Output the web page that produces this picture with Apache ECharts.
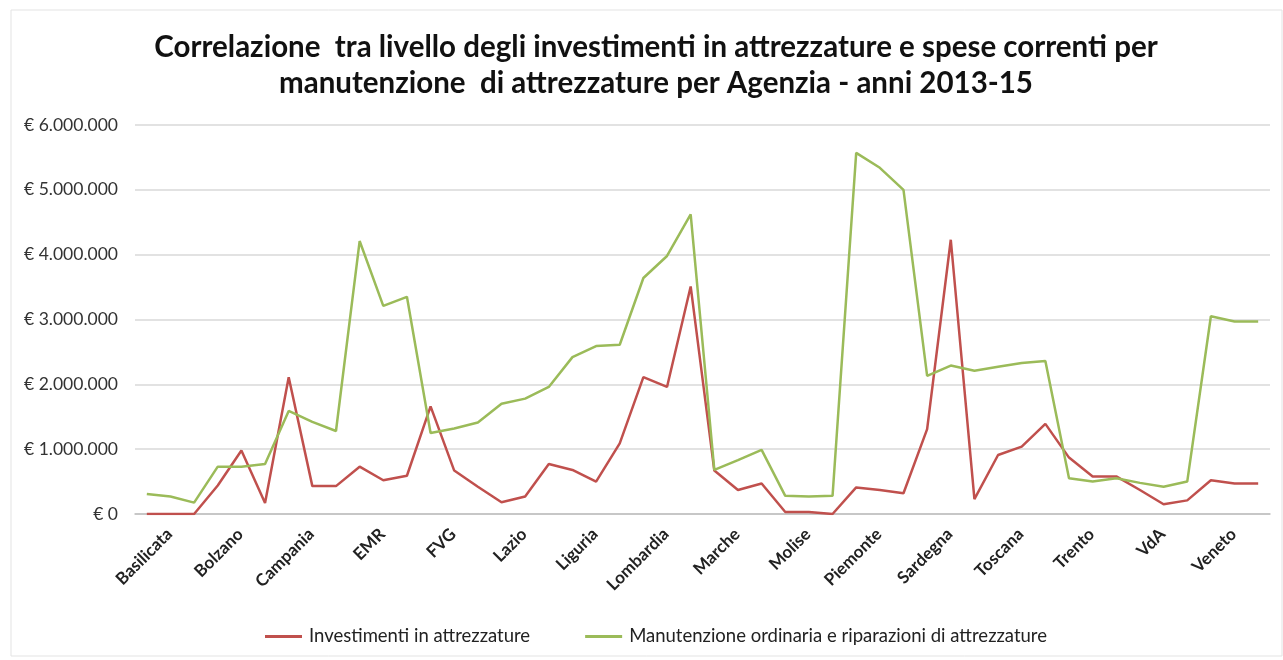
<!DOCTYPE html>
<html>
<head>
<meta charset="utf-8">
<script src="https://cdn.jsdelivr.net/npm/echarts@6/dist/echarts.min.js"></script>
<style>
  html, body { margin: 0; padding: 0; background: #fff; }
  #chart { width: 1283px; height: 660px; }
</style>
</head>
<body>
<div id="chart"></div>
<script>
const agencies = ['Basilicata', 'Bolzano', 'Campania', 'EMR', 'FVG', 'Lazio', 'Liguria', 'Lombardia',
  'Marche', 'Molise', 'Piemonte', 'Sardegna', 'Toscana', 'Trento', 'VdA', 'Veneto'];
const years = ['2013', '2014', '2015'];

// euro, three years per agency
const investimenti = [
  0, 0, 0,
  440000, 980000, 170000,
  2110000, 430000, 430000,
  730000, 520000, 590000,
  1660000, 670000, 420000,
  180000, 270000, 770000,
  680000, 500000, 1090000,
  2110000, 1960000, 3510000,
  670000, 370000, 470000,
  30000, 30000, 0,
  410000, 370000, 320000,
  1310000, 4230000, 230000,
  910000, 1040000, 1390000,
  870000, 580000, 580000,
  370000, 150000, 210000,
  520000, 470000, 470000
];
const manutenzione = [
  310000, 270000, 175000,
  730000, 730000, 770000,
  1590000, 1420000, 1280000,
  4210000, 3210000, 3350000,
  1250000, 1320000, 1410000,
  1700000, 1780000, 1960000,
  2420000, 2590000, 2610000,
  3640000, 3980000, 4620000,
  680000, 830000, 990000,
  280000, 270000, 280000,
  5570000, 5340000, 5000000,
  2130000, 2290000, 2210000,
  2270000, 2330000, 2360000,
  550000, 500000, 550000,
  480000, 420000, 500000,
  3050000, 2970000, 2970000
];

const categories = [];
agencies.forEach(a => years.forEach(y => categories.push(a + ' ' + y)));

const euro = v => '€ ' + String(v).replace(/\B(?=(\d{3})+(?!\d))/g, '.');

const chart = echarts.init(document.getElementById('chart'));
chart.setOption({
  animation: false,
  textStyle: { fontFamily: 'Lato' },
  title: {
    text: 'Correlazione  tra livello degli investimenti in attrezzature e spese correnti per\nmanutenzione  di attrezzature per Agenzia - anni 2013-15',
    left: 651,
    top: 24,
    textAlign: 'center',
    textStyle: {
      fontFamily: 'Lato',
      fontSize: 29.5,
      fontWeight: 'bold',
      color: '#111',
      lineHeight: 36.5
    }
  },
  graphic: [{
    type: 'rect',
    shape: { x: 11, y: 10, width: 1271, height: 646 },
    style: { fill: 'none', stroke: '#e3e3e3', lineWidth: 1 },
    silent: true,
    z: -1
  }],
  legend: {
    top: 622,
    left: 260,
    itemGap: 55,
    icon: 'rect',
    itemWidth: 37,
    itemHeight: 3,
    textStyle: { fontSize: 18.5, color: '#222', fontFamily: 'Lato', padding: [0, 0, 0, 2] },
    data: ['Investimenti in attrezzature', 'Manutenzione ordinaria e riparazioni di attrezzature']
  },
  grid: { left: 135, right: 13, top: 125, bottom: 146 },
  xAxis: {
    type: 'category',
    data: categories,
    boundaryGap: true,
    axisLine: { lineStyle: { color: '#bfbfbf', width: 1.5 } },
    axisTick: { show: false },
    axisLabel: {
      interval: 2,
      rotate: 45,
      margin: 40,
      padding: [0, -32, 0, 0],
      fontSize: 17,
      fontWeight: 'bold',
      color: '#222',
      formatter: v => v.split(' ')[0]
    }
  },
  yAxis: {
    type: 'value',
    min: 0,
    max: 6000000,
    interval: 1000000,
    axisLine: { show: false },
    axisTick: { show: false },
    splitLine: { lineStyle: { color: '#d9d9d9', width: 1.5 } },
    axisLabel: { fontSize: 17.5, color: '#333', margin: 17, formatter: euro }
  },
  series: [
    {
      name: 'Investimenti in attrezzature',
      type: 'line',
      data: investimenti,
      symbol: 'none',
      lineStyle: { color: '#C0504D', width: 2.5 },
      itemStyle: { color: '#C0504D' }
    },
    {
      name: 'Manutenzione ordinaria e riparazioni di attrezzature',
      type: 'line',
      data: manutenzione,
      symbol: 'none',
      lineStyle: { color: '#9BBB59', width: 2.5 },
      itemStyle: { color: '#9BBB59' }
    }
  ]
});
</script>
</body>
</html>
